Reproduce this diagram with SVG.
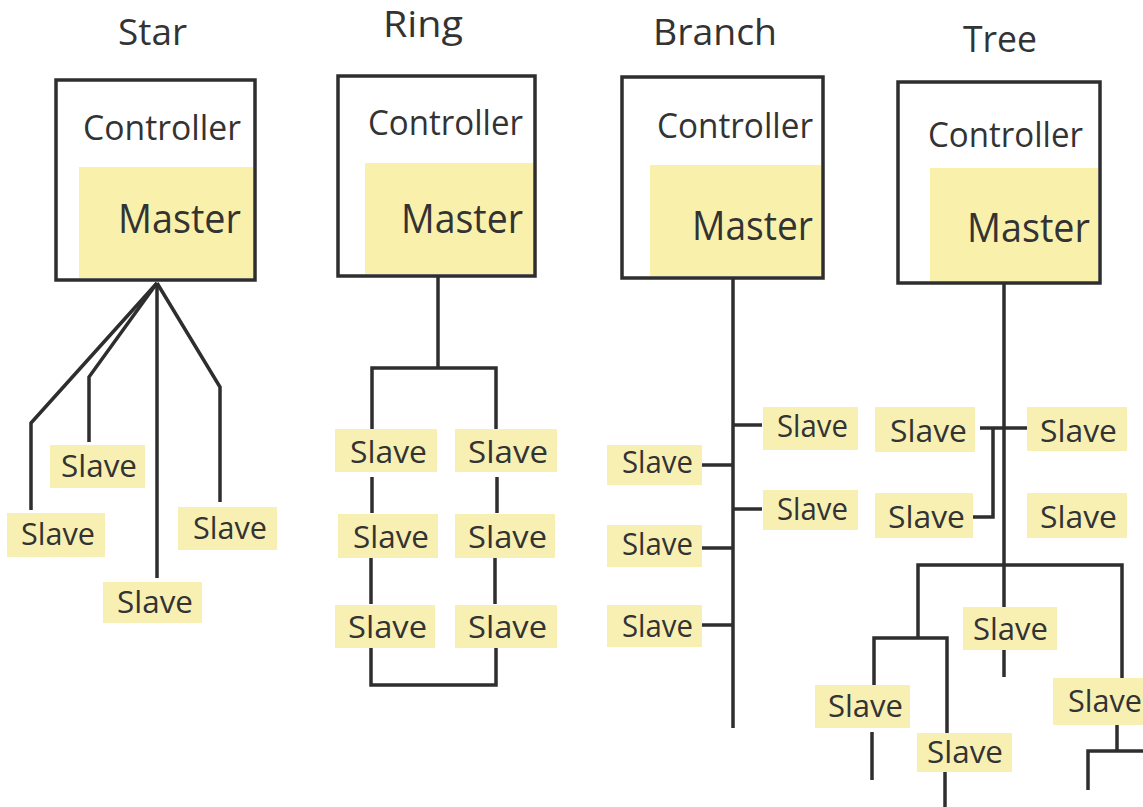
<svg xmlns="http://www.w3.org/2000/svg" width="1143" height="807" viewBox="0 0 1143 807">
<style>
text{font-family:"Open Sans","Noto Sans","Liberation Sans",sans-serif;fill:#333}
.t{font-size:36px}
.c{font-size:34px}
.m{font-size:41px}
.s{font-size:31px}
.box{fill:#fff;stroke:#2e2e2e;stroke-width:3.5}
.my{fill:#f9f1ab}
.sy{fill:#f8f0b2}
.ln{fill:none;stroke:#2e2e2e;stroke-width:3.5}
</style>
<rect width="1143" height="807" fill="#fff"/>
<g id="titles">
<text class="t" x="118" y="45" textLength="69" lengthAdjust="spacingAndGlyphs">Star</text>
<text class="t" x="383" y="37" textLength="80" lengthAdjust="spacingAndGlyphs">Ring</text>
<text class="t" x="653" y="45" textLength="124" lengthAdjust="spacingAndGlyphs">Branch</text>
<text class="t" x="963" y="52" textLength="74" lengthAdjust="spacingAndGlyphs">Tree</text>
</g>
<g id="ctrl-star">
<rect class="box" x="56" y="80" width="199" height="200"/>
<rect class="my" x="79" y="167" width="174" height="111"/>
<text class="c" x="83" y="140" textLength="158" lengthAdjust="spacingAndGlyphs">Controller</text>
<text class="m" x="118" y="233" textLength="123" lengthAdjust="spacingAndGlyphs">Master</text>
</g>
<g id="ctrl-ring">
<rect class="box" x="338" y="76" width="197" height="200"/>
<rect class="my" x="365" y="163" width="168" height="111"/>
<text class="c" x="368" y="135" textLength="155" lengthAdjust="spacingAndGlyphs">Controller</text>
<text class="m" x="401" y="233" textLength="122" lengthAdjust="spacingAndGlyphs">Master</text>
</g>
<g id="ctrl-branch">
<rect class="box" x="622" y="77" width="201" height="201"/>
<rect class="my" x="650" y="165" width="171" height="111"/>
<text class="c" x="657" y="138" textLength="156" lengthAdjust="spacingAndGlyphs">Controller</text>
<text class="m" x="692" y="240" textLength="121" lengthAdjust="spacingAndGlyphs">Master</text>
</g>
<g id="ctrl-tree">
<rect class="box" x="898" y="82" width="202" height="201"/>
<rect class="my" x="930" y="168" width="168" height="113"/>
<text class="c" x="928" y="147" textLength="155" lengthAdjust="spacingAndGlyphs">Controller</text>
<text class="m" x="967" y="242" textLength="123" lengthAdjust="spacingAndGlyphs">Master</text>
</g>
<g id="connectors" class="ln">
<path d="M157 283 L31 423 L31 510"/>
<path d="M157 283 L89 377 L89 442"/>
<path d="M157 283 L157 578"/>
<path d="M157 283 L220 387 L220 502"/>
<path d="M438 276 L438 368"/>
<path d="M372 430 L372 368 L496 368 L496 430"/>
<path d="M372 477 L372 513"/>
<path d="M497 477 L497 513"/>
<path d="M371 558 L371 604"/>
<path d="M495 558 L495 604"/>
<path d="M371 647 L371 685 L496 685 L496 647"/>
<path d="M733 278 L733 728"/>
<path d="M733 425 L762 425"/>
<path d="M733 509 L762 509"/>
<path d="M700 465 L733 465"/>
<path d="M700 548 L733 548"/>
<path d="M700 625 L733 625"/>
<path d="M1004 283 L1004 607"/>
<path d="M980 428 L1040 428"/>
<path d="M993 428 L993 517 L973 517"/>
<path d="M918 638 L918 565 L1122 565 L1122 678"/>
<path d="M1004 647 L1004 677"/>
<path d="M874 687 L874 638 L947 638 L947 733"/>
<path d="M872 732 L872 780"/>
<path d="M945 772 L945 807"/>
<path d="M1117 725 L1117 751"/>
<path d="M1088 790 L1088 751 L1143 751"/>
</g>
<g id="star-slave-1"><rect class="sy" x="50" y="445" width="95" height="43"/><text class="s" x="61" y="477" textLength="76" lengthAdjust="spacingAndGlyphs">Slave</text></g>
<g id="star-slave-2"><rect class="sy" x="7" y="513" width="98" height="44"/><text class="s" x="21" y="545" textLength="74" lengthAdjust="spacingAndGlyphs">Slave</text></g>
<g id="star-slave-3"><rect class="sy" x="178" y="507" width="99" height="43"/><text class="s" x="193" y="539" textLength="74" lengthAdjust="spacingAndGlyphs">Slave</text></g>
<g id="star-slave-4"><rect class="sy" x="103" y="582" width="99" height="41"/><text class="s" x="117" y="613" textLength="76" lengthAdjust="spacingAndGlyphs">Slave</text></g>
<g id="ring-slave-1"><rect class="sy" x="335" y="429" width="102" height="43"/><text class="s" x="350" y="463" textLength="77" lengthAdjust="spacingAndGlyphs">Slave</text></g>
<g id="ring-slave-2"><rect class="sy" x="455" y="429" width="102" height="43"/><text class="s" x="468" y="463" textLength="80" lengthAdjust="spacingAndGlyphs">Slave</text></g>
<g id="ring-slave-3"><rect class="sy" x="338" y="514" width="100" height="44"/><text class="s" x="353" y="548" textLength="76" lengthAdjust="spacingAndGlyphs">Slave</text></g>
<g id="ring-slave-4"><rect class="sy" x="455" y="514" width="100" height="44"/><text class="s" x="468" y="548" textLength="79" lengthAdjust="spacingAndGlyphs">Slave</text></g>
<g id="ring-slave-5"><rect class="sy" x="335" y="605" width="100" height="43"/><text class="s" x="348" y="638" textLength="79" lengthAdjust="spacingAndGlyphs">Slave</text></g>
<g id="ring-slave-6"><rect class="sy" x="455" y="605" width="102" height="43"/><text class="s" x="468" y="638" textLength="79" lengthAdjust="spacingAndGlyphs">Slave</text></g>
<g id="branch-slave-1"><rect class="sy" x="763" y="407" width="95" height="43"/><text class="s" x="777" y="437" textLength="71" lengthAdjust="spacingAndGlyphs">Slave</text></g>
<g id="branch-slave-2"><rect class="sy" x="763" y="490" width="95" height="40"/><text class="s" x="777" y="520" textLength="71" lengthAdjust="spacingAndGlyphs">Slave</text></g>
<g id="branch-slave-3"><rect class="sy" x="607" y="445" width="95" height="40"/><text class="s" x="622" y="473" textLength="71" lengthAdjust="spacingAndGlyphs">Slave</text></g>
<g id="branch-slave-4"><rect class="sy" x="607" y="525" width="95" height="42"/><text class="s" x="622" y="555" textLength="71" lengthAdjust="spacingAndGlyphs">Slave</text></g>
<g id="branch-slave-5"><rect class="sy" x="607" y="605" width="95" height="42"/><text class="s" x="622" y="637" textLength="71" lengthAdjust="spacingAndGlyphs">Slave</text></g>
<g id="tree-slave-1"><rect class="sy" x="875" y="407" width="100" height="45"/><text class="s" x="890" y="442" textLength="77" lengthAdjust="spacingAndGlyphs">Slave</text></g>
<g id="tree-slave-2"><rect class="sy" x="1027" y="407" width="100" height="44"/><text class="s" x="1040" y="442" textLength="77" lengthAdjust="spacingAndGlyphs">Slave</text></g>
<g id="tree-slave-3"><rect class="sy" x="875" y="493" width="98" height="45"/><text class="s" x="888" y="528" textLength="77" lengthAdjust="spacingAndGlyphs">Slave</text></g>
<g id="tree-slave-4"><rect class="sy" x="1027" y="493" width="100" height="45"/><text class="s" x="1040" y="528" textLength="77" lengthAdjust="spacingAndGlyphs">Slave</text></g>
<g id="tree-slave-5"><rect class="sy" x="963" y="607" width="94" height="43"/><text class="s" x="973" y="640" textLength="75" lengthAdjust="spacingAndGlyphs">Slave</text></g>
<g id="tree-slave-6"><rect class="sy" x="815" y="685" width="95" height="43"/><text class="s" x="828" y="717" textLength="75" lengthAdjust="spacingAndGlyphs">Slave</text></g>
<g id="tree-slave-7"><rect class="sy" x="917" y="733" width="95" height="39"/><text class="s" x="927" y="763" textLength="76" lengthAdjust="spacingAndGlyphs">Slave</text></g>
<g id="tree-slave-8"><rect class="sy" x="1053" y="678" width="95" height="47"/><text class="s" x="1068" y="712" textLength="74" lengthAdjust="spacingAndGlyphs">Slave</text></g>
</svg>
